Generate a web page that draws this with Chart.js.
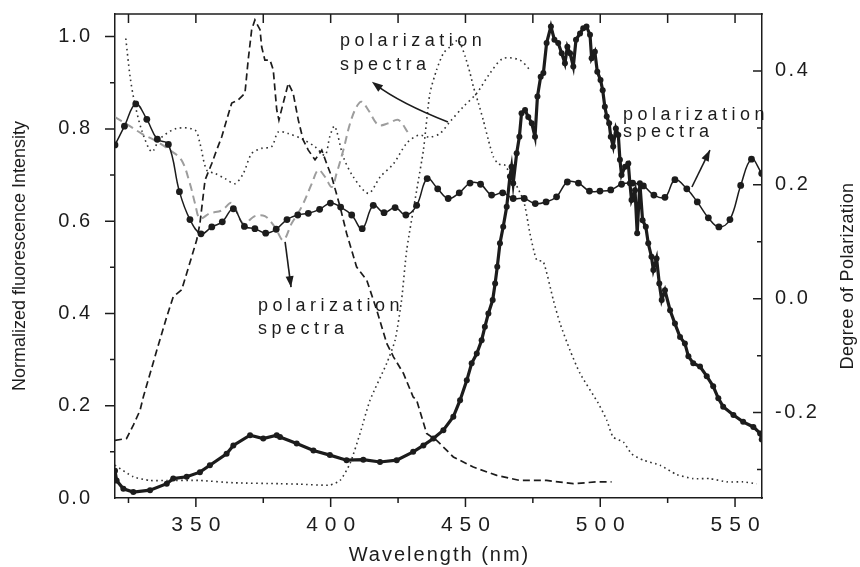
<!DOCTYPE html>
<html lang="en">
<head>
<meta charset="UTF-8" />
<title>Fluorescence and polarization spectra</title>
<script src="https://cdn.jsdelivr.net/npm/chart.js"></script>
<style>
  body { margin: 0; background: #fff; }
  #wrap { width: 860px; height: 567px; }
</style>
</head>
<body>
<div id="wrap"><canvas id="chart" width="860" height="567"></canvas></div>
<script>
// values: wavelength (nm) and intensity / degree of polarization

// emission spectrum, solid line with dense markers (left axis)
const emisX = [320.0, 320.6, 323.1, 326.8, 333.0, 339.2, 341.6, 346.6, 351.5, 355.2, 361.4, 363.9, 370.1, 375.0, 380.0, 381.2, 387.4,
  393.6, 399.7, 405.9, 412.1, 418.3, 424.5, 430.6, 434.4, 438.1, 441.8, 445.5, 448.0, 450.5, 452.3, 454.2, 456.0, 457.2, 458.5,
  460.1, 461.0, 461.8, 462.8, 464.0, 465.3, 466.5, 467.1, 467.7, 469.0, 470.0, 470.8, 472.1, 473.3, 474.6, 475.8, 476.7, 477.9,
  478.9, 480.1, 481.7, 483.0, 484.4, 485.7, 486.9, 487.8, 488.8, 490.0, 491.0, 492.5, 493.7, 494.9, 496.2, 496.8, 498.0, 498.9,
  500.1, 500.9, 501.7, 502.4, 503.3, 503.9, 504.8, 505.8, 506.7, 507.3, 507.9, 509.2, 510.4, 511.0, 511.6, 512.9, 513.7, 514.7,
  515.7, 516.9, 517.8, 519.0, 519.7, 520.9, 521.9, 522.8, 524.0, 525.9, 527.7, 529.6, 531.4, 532.7, 534.5, 537.0, 539.5, 541.9,
  543.8, 545.6, 549.4, 553.0, 556.8, 559.3, 559.9];
const emisY = [0.059, 0.038, 0.020, 0.013, 0.017, 0.031, 0.042, 0.046, 0.056, 0.071, 0.096, 0.114, 0.136, 0.129, 0.136, 0.132, 0.118,
  0.103, 0.093, 0.082, 0.083, 0.078, 0.082, 0.100, 0.114, 0.129, 0.147, 0.176, 0.212, 0.255, 0.292, 0.313, 0.342, 0.371, 0.400,
  0.429, 0.465, 0.501, 0.552, 0.588, 0.631, 0.697, 0.718, 0.682, 0.747, 0.783, 0.834, 0.841, 0.826, 0.812, 0.783, 0.870, 0.913,
  0.921, 0.986, 1.022, 0.993, 0.986, 0.964, 0.942, 0.978, 0.964, 0.935, 0.993, 1.007, 1.018, 1.022, 1.004, 0.953, 0.967, 0.924,
  0.906, 0.884, 0.848, 0.827, 0.812, 0.783, 0.762, 0.801, 0.787, 0.733, 0.700, 0.718, 0.725, 0.682, 0.646, 0.667, 0.574, 0.682,
  0.602, 0.588, 0.552, 0.523, 0.494, 0.519, 0.465, 0.429, 0.450, 0.407, 0.378, 0.349, 0.335, 0.307, 0.292, 0.285, 0.264, 0.242,
  0.216, 0.198, 0.180, 0.165, 0.154, 0.140, 0.127];

// excitation spectrum, dashed (left axis)
const excX = [320.0, 324.3, 326.8, 329.3, 330.5, 335.5, 339.2, 341.6, 344.7, 346.6, 350.3, 351.5, 353.4, 355.9, 357.7, 359.6, 361.4,
  363.3, 365.7, 368.2, 369.4, 370.7, 371.9, 373.8, 374.4, 375.6, 377.5, 378.7, 380.0, 380.8, 382.4, 384.3, 386.1, 388.0, 389.8,
  391.7, 394.2, 396.7, 398.5, 400.4, 403.5, 405.9, 409.6, 413.4, 417.1, 420.8, 423.3, 427.0, 430.6, 431.9, 435.6, 439.3, 445.5,
  452.9, 461.6, 470.2, 480.1, 490.0, 498.7, 504.2];
const excY = [0.125, 0.129, 0.158, 0.190, 0.219, 0.320, 0.393, 0.436, 0.451, 0.487, 0.559, 0.595, 0.689, 0.725, 0.754, 0.783, 0.819,
  0.856, 0.863, 0.877, 0.949, 1.015, 1.036, 1.015, 0.978, 0.949, 0.949, 0.928, 0.841, 0.819, 0.856, 0.899, 0.877, 0.819, 0.776,
  0.754, 0.733, 0.754, 0.725, 0.696, 0.631, 0.574, 0.501, 0.472, 0.407, 0.335, 0.306, 0.270, 0.219, 0.212, 0.140, 0.125, 0.089,
  0.067, 0.049, 0.038, 0.038, 0.031, 0.035, 0.035];

// second emission spectrum, dotted (left axis)
const emis2X = [320.0, 326.8, 333.0, 339.2, 351.5, 363.9, 381.2, 388.6, 399.7, 403.5, 407.2, 410.9, 414.6, 420.8, 423.9, 426.3, 428.2,
  431.9, 434.4, 436.8, 439.3, 441.8, 444.3, 447.3, 448.6, 449.9, 451.7, 452.9, 454.8, 456.6, 458.5, 460.3, 462.2, 464.7, 471.5,
  473.9, 476.4, 478.9, 482.6, 485.1, 488.8, 492.5, 499.3, 502.4, 504.8, 508.6, 511.6, 516.0, 522.2, 528.3, 534.5, 540.7, 546.9,
  553.0, 558.0];
const emis2Y = [0.071, 0.046, 0.038, 0.038, 0.038, 0.033, 0.031, 0.030, 0.028, 0.038, 0.075, 0.140, 0.212, 0.292, 0.342, 0.429, 0.537,
  0.667, 0.754, 0.877, 0.928, 0.964, 0.978, 0.993, 0.978, 0.957, 0.921, 0.892, 0.856, 0.819, 0.776, 0.740, 0.724, 0.721, 0.645,
  0.574, 0.516, 0.512, 0.429, 0.378, 0.320, 0.270, 0.205, 0.169, 0.132, 0.121, 0.096, 0.082, 0.071, 0.051, 0.042, 0.042, 0.035,
  0.035, 0.031];

// emission polarization, solid line with markers (right axis)
const polEmX = [320.0, 323.5, 327.7, 331.8, 335.7, 339.8, 343.9, 347.8, 351.9, 355.9, 359.8, 363.9, 368.0, 371.9, 375.9, 379.8, 383.8,
  387.8, 391.7, 395.9, 399.9, 403.7, 407.8, 411.7, 415.8, 419.8, 423.9, 427.9, 431.9, 435.8, 439.7, 443.6, 447.7, 451.7, 455.6,
  459.7, 463.8, 467.7, 471.8, 475.9, 479.9, 483.8, 487.8, 491.9, 496.0, 499.9, 503.9, 507.9, 512.0, 516.0, 519.9, 524.0, 527.7,
  532.1, 536.0, 540.1, 544.0, 548.1, 552.1, 556.1, 559.9];
const polEmY = [0.270, 0.303, 0.342, 0.315, 0.280, 0.271, 0.188, 0.139, 0.114, 0.126, 0.135, 0.158, 0.127, 0.123, 0.115, 0.122, 0.139,
  0.147, 0.150, 0.157, 0.168, 0.161, 0.147, 0.123, 0.164, 0.151, 0.160, 0.147, 0.164, 0.211, 0.193, 0.176, 0.186, 0.203, 0.201,
  0.182, 0.186, 0.176, 0.176, 0.167, 0.170, 0.179, 0.205, 0.203, 0.189, 0.189, 0.191, 0.201, 0.203, 0.198, 0.182, 0.178, 0.209,
  0.193, 0.170, 0.142, 0.126, 0.139, 0.199, 0.245, 0.220];

// excitation polarization, grey dashed (right axis)
const polExX = [320.0, 324.9, 329.9, 334.8, 340.4, 344.7, 347.8, 349.7, 351.5, 355.2, 359.6, 363.3, 367.6, 371.9, 375.6, 379.3, 382.4,
  385.5, 389.2, 393.0, 395.4, 397.9, 400.4, 402.2, 404.7, 407.2, 409.6, 411.5, 414.0, 417.7, 421.4, 425.1, 428.8];
const polExY = [0.319, 0.305, 0.290, 0.278, 0.261, 0.243, 0.202, 0.167, 0.141, 0.150, 0.155, 0.168, 0.132, 0.145, 0.145, 0.126, 0.103,
  0.132, 0.161, 0.202, 0.226, 0.214, 0.196, 0.220, 0.261, 0.308, 0.337, 0.346, 0.331, 0.305, 0.308, 0.314, 0.291];

// second polarization spectrum, dotted (right axis)
const pol2X = [324.0, 325.6, 327.2, 329.9, 333.6, 336.7, 342.9, 349.7, 351.5, 354.0, 357.1, 360.8, 364.5, 367.6, 370.7, 374.4, 378.1,
  380.6, 384.3, 389.2, 394.2, 397.9, 399.7, 401.5, 404.7, 408.4, 414.0, 418.4, 423.3, 428.2, 432.5, 436.8, 440.5, 444.3, 449.2,
  454.2, 459.1, 464.0, 470.2, 473.9];
const pol2Y = [0.457, 0.390, 0.346, 0.296, 0.258, 0.281, 0.299, 0.296, 0.273, 0.226, 0.220, 0.211, 0.202, 0.220, 0.255, 0.264, 0.267,
  0.293, 0.290, 0.281, 0.267, 0.252, 0.285, 0.303, 0.249, 0.214, 0.185, 0.214, 0.237, 0.273, 0.287, 0.284, 0.290, 0.311, 0.337,
  0.361, 0.396, 0.422, 0.419, 0.402];

// axis labels and tick marks
const xLabels = [350, 400, 450, 500, 550];
const xMarks = [325, 350, 375, 400, 425, 450, 475, 500, 525, 550];
const yLabels = [0, 0.2, 0.4, 0.6, 0.8, 1.0];
const yMarks = [0.1, 0.2, 0.3, 0.4, 0.5, 0.6, 0.7, 0.8, 0.9, 1.0];
const y2Labels = [-0.2, 0, 0.2, 0.4];
const y2Marks = [-0.3, -0.2, -0.1, 0, 0.1, 0.2, 0.3, 0.4];

const INK = '#1c1c1c';
const FONT = "'Liberation Sans', Arial, sans-serif";

const pts = (xs, ys) => xs.map((x, i) => ({ x, y: ys[i] }));

// draw a scale method with some extra letter spacing
function spaced(scale, method, spacing, shift) {
  const orig = scale[method].bind(scale);
  scale[method] = function (area) {
    const ctx = this.ctx;
    ctx.save();
    ctx.letterSpacing = spacing + 'px';
    ctx.translate(shift, 0);
    orig(area);
    ctx.restore();
  };
}

const spacing = {
  id: 'spacing',
  beforeDraw(chart) {
    if (chart._spaced) return;
    chart._spaced = true;
    const s = chart.scales;
    spaced(s.x, 'drawLabels', 7, 3.5);
    spaced(s.x, 'drawTitle', 2, 1);
    spaced(s.y, 'drawLabels', 2, 2);
    spaced(s.y2, 'drawLabels', 2.5, 0);
  }
};

// top border, tick marks, right title
const frame = {
  id: 'frame',
  afterDraw(chart) {
    const { ctx, chartArea: a, scales: { x, y, y2 } } = chart;
    ctx.save();
    ctx.strokeStyle = INK;
    ctx.lineWidth = 1.5;
    ctx.beginPath();
    ctx.moveTo(a.left - 0.75, a.top);
    ctx.lineTo(a.right + 0.75, a.top);
    ctx.stroke();

    ctx.beginPath();
    xMarks.forEach(v => {
      const px = x.getPixelForValue(v);
      const len = v % 50 === 0 ? 9 : 5;
      ctx.moveTo(px, a.bottom); ctx.lineTo(px, a.bottom + len);
      ctx.moveTo(px, a.top); ctx.lineTo(px, a.top + 9);
    });
    yMarks.forEach(v => {
      const py = y.getPixelForValue(v);
      const len = Math.round(v * 10) % 2 === 0 ? 10 : 5;
      ctx.moveTo(a.left, py); ctx.lineTo(a.left - len, py);
    });
    y2Marks.forEach(v => {
      const py = y2.getPixelForValue(v);
      const len = Math.round(Math.abs(v) * 10) % 2 === 0 ? 9 : 5;
      ctx.moveTo(a.right, py); ctx.lineTo(a.right - len, py);
    });
    ctx.stroke();

    ctx.fillStyle = INK;
    ctx.font = '18px ' + FONT;
    ctx.letterSpacing = '0.4px';
    ctx.textAlign = 'center';
    ctx.textBaseline = 'middle';
    ctx.translate(a.right + 86, (a.top + a.bottom) / 2 + 20);
    ctx.rotate(-Math.PI / 2);
    ctx.fillText('Degree of Polarization', 0, 0);
    ctx.restore();
  }
};

function arrowHead(ctx, tx, ty, fx, fy) {
  const ang = Math.atan2(ty - fy, tx - fx);
  const len = 11, half = 4;
  const bx = tx - len * Math.cos(ang), by = ty - len * Math.sin(ang);
  ctx.beginPath();
  ctx.moveTo(tx, ty);
  ctx.lineTo(bx + half * Math.sin(ang), by - half * Math.cos(ang));
  ctx.lineTo(bx - half * Math.sin(ang), by + half * Math.cos(ang));
  ctx.closePath();
  ctx.fill();
}

// "polarization spectra" notes with their arrows, placed in data units
const notes = {
  id: 'notes',
  afterDraw(chart) {
    const { ctx, scales: { x, y } } = chart;
    const P = (wl, v) => [x.getPixelForValue(wl), y.getPixelForValue(v)];
    ctx.save();
    ctx.fillStyle = INK;
    ctx.strokeStyle = INK;
    ctx.font = '18px ' + FONT;
    ctx.letterSpacing = '4.5px';
    ctx.textAlign = 'left';
    ctx.textBaseline = 'alphabetic';

    const label = (wl, v, pitch) => {
      const [px, py] = P(wl, v);
      ctx.fillText('polarization', px, py);
      ctx.fillText('spectra', px, py + pitch);
    };
    label(403.5, 0.980, 24);
    label(508.4, 0.819, 17);
    label(373.0, 0.405, 23);

    ctx.lineWidth = 1.6;
    // curved arrow, top
    let [sx, sy] = P(443.5, 0.815);
    let [cx, cy] = P(425.7, 0.856);
    let [tx, ty] = P(415.3, 0.902);
    ctx.beginPath();
    ctx.moveTo(sx, sy);
    ctx.quadraticCurveTo(cx, cy, tx + 4, ty + 3);
    ctx.stroke();
    arrowHead(ctx, tx, ty, cx, cy);

    // right arrow
    [sx, sy] = P(534.0, 0.674);
    [tx, ty] = P(540.7, 0.754);
    ctx.beginPath(); ctx.moveTo(sx, sy); ctx.lineTo(tx, ty); ctx.stroke();
    arrowHead(ctx, tx, ty, sx, sy);

    // lower arrow
    [sx, sy] = P(383.1, 0.555);
    [tx, ty] = P(385.3, 0.457);
    ctx.beginPath(); ctx.moveTo(sx, sy); ctx.lineTo(tx, ty); ctx.stroke();
    arrowHead(ctx, tx, ty, sx, sy);
    ctx.restore();
  }
};

const datasets = [
  { data: pts(emisX, emisY), yAxisID: 'y', borderColor: INK, borderWidth: 3.2, pointRadius: 3,
    pointBackgroundColor: INK, pointBorderWidth: 0, tension: 0 },
  { data: pts(polEmX, polEmY), yAxisID: 'y2', borderColor: INK, borderWidth: 1.5, pointRadius: 3.4,
    pointBackgroundColor: INK, pointBorderWidth: 0, tension: 0.4 },
  { data: pts(excX, excY), yAxisID: 'y', borderColor: INK, borderWidth: 1.7, borderDash: [7, 4], pointRadius: 0, tension: 0 },
  { data: pts(polExX, polExY), yAxisID: 'y2', borderColor: '#9d9d9d', borderWidth: 2, borderDash: [8, 5], pointRadius: 0, tension: 0.35 },
  { data: pts(emis2X, emis2Y), yAxisID: 'y', borderColor: '#333', borderWidth: 1.6, borderDash: [1.6, 3.4], pointRadius: 0, tension: 0.2 },
  { data: pts(pol2X, pol2Y), yAxisID: 'y2', borderColor: '#333', borderWidth: 1.6, borderDash: [1.6, 3.6], pointRadius: 0, tension: 0.3 }
];

// vertical axes: fixed width, no extra room for half labels
const fixWidth = w => s => { s.width = w; s.paddingTop = 0; s.paddingBottom = 0; };

new Chart(document.getElementById('chart'), {
  type: 'line',
  data: { datasets },
  options: {
    responsive: false,
    devicePixelRatio: 1,
    animation: false,
    layout: { padding: { top: 14, left: 0, right: 0, bottom: 0 } },
    plugins: { legend: { display: false }, tooltip: { enabled: false } },
    scales: {
      x: {
        type: 'linear', min: 320, max: 560,
        afterBuildTicks: s => { s.ticks = xLabels.map(v => ({ value: v })); },
        afterFit: s => { s.height = 69; s.paddingLeft = 0; s.paddingRight = 0; },
        grid: { display: false, drawTicks: false },
        border: { color: INK, width: 1.5 },
        ticks: { color: INK, font: { family: FONT, size: 21 }, padding: 15, maxRotation: 0, callback: v => String(v) },
        title: { display: true, text: 'Wavelength (nm)', color: INK, font: { family: FONT, size: 20 }, padding: { top: 0, bottom: 0 } }
      },
      y: {
        type: 'linear', position: 'left', min: 0, max: 1.049,
        afterBuildTicks: s => { s.ticks = yLabels.map(v => ({ value: v })); },
        afterFit: fixWidth(115),
        grid: { display: false, drawTicks: false },
        border: { color: INK, width: 1.5 },
        ticks: { color: INK, font: { family: FONT, size: 20 }, padding: 25, callback: v => v.toFixed(1) },
        title: { display: true, text: 'Normalized fluorescence Intensity', color: INK, font: { family: FONT, size: 18 }, padding: { top: 9, bottom: 0 } }
      },
      y2: {
        type: 'linear', position: 'right', min: -0.35, max: 0.5,
        afterBuildTicks: s => { s.ticks = y2Labels.map(v => ({ value: v })); },
        afterFit: fixWidth(98),
        grid: { display: false, drawTicks: false },
        border: { color: INK, width: 1.5 },
        ticks: { color: INK, font: { family: FONT, size: 20 }, padding: 13, callback: v => v.toFixed(1) }
      }
    }
  },
  plugins: [spacing, frame, notes]
});
</script>
</body>
</html>
